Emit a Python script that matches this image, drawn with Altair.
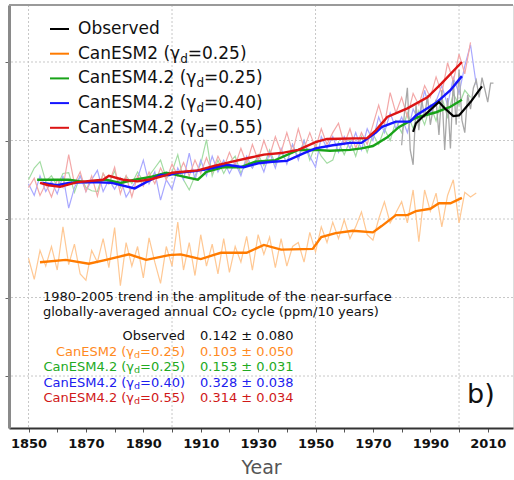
import altair as alt
import pandas as pd

# ---------------- data ----------------
obs_raw_vals = [39.4, 43.6, 46.7, 38.8, 36.9, 44.5, 41.3, 45.2, 42.9, 45.8,
                42.0, 44.1, 45.2, 40.7, 46.4, 38.8, 45.4, 39.0, 47.7, 42.0,
                49.0, 42.6, 41.0, 45.8, 44.0, 46.7, 47.7, 45.5, 48.0, 46.5,
                44.9, 47.3, 47.3]
obs_raw_start = 1980
obs_smooth_years = [1984, 1985, 1987, 1990, 1993, 1995, 1998, 2000, 2004, 2008]
obs_smooth_vals = [41.1, 42.2, 42.9, 43.9, 44.9, 44.1, 43.1, 43.2, 44.9, 46.9]

esm2_raw_vals = [25.0, 22.3, 26.0, 24.0, 26.5, 23.5, 29.0, 24.2, 26.8, 23.0,
                 22.2, 26.0, 24.5, 27.5, 23.8, 28.9, 21.5, 27.0, 24.0, 26.5,
                 22.5, 27.6, 24.5, 21.8, 26.5, 24.0, 29.6, 23.5, 27.0, 22.8,
                 28.0, 24.0, 26.8, 23.0, 27.5, 23.2, 26.5, 24.5, 27.8, 23.5,
                 28.0, 25.5, 27.7, 23.8, 27.5, 24.0, 26.5, 27.0, 24.5, 28.3,
                 25.8, 29.0, 27.0, 29.6, 27.5, 29.9, 27.5, 29.0, 30.9, 28.0,
                 27.3, 30.0, 32.2, 29.5, 30.8, 32.2, 29.5, 33.7, 27.1, 33.7,
                 31.0, 33.3, 29.0, 33.0, 35.0, 29.5, 33.4, 32.8, 33.3]
esm2_smooth_years = [1854, 1863, 1871, 1877, 1885, 1891, 1899, 1903, 1910, 1917,
                     1926, 1932, 1938, 1949, 1952, 1957, 1963, 1970, 1973, 1978,
                     1982, 1985, 1990, 1993, 1997, 2001]
esm2_smooth_vals = [24.5, 24.8, 24.3, 24.8, 25.5, 24.8, 25.4, 25.5, 24.9, 25.7,
                    25.7, 26.7, 26.1, 26.2, 27.7, 28.2, 28.5, 28.3, 29.1, 30.5,
                    30.5, 31.0, 31.3, 32.0, 32.0, 32.7]

g25_raw_vals = [35.0, 36.5, 37.3, 34.8, 35.5, 34.2, 35.8, 35.9, 33.4, 35.5,
                34.0, 33.6, 33.5, 35.8, 34.5, 36.1, 34.0, 35.5, 34.5, 36.0,
                34.8, 35.5, 36.5, 37.5, 35.2, 36.0, 38.2, 35.0, 33.7, 35.5,
                37.0, 40.1, 35.5, 37.5, 35.8, 37.2, 38.0, 35.8, 37.5, 36.5,
                38.2, 36.8, 38.8, 37.0, 38.5, 37.2, 39.5, 37.8, 40.0, 37.5,
                39.5, 38.0, 37.1, 37.5, 39.8, 38.2, 40.0, 38.0, 40.5, 38.5,
                40.8, 39.5, 41.5, 40.0, 42.5, 41.0, 43.5, 41.5, 43.8, 42.0,
                44.5, 42.5, 45.5, 43.0, 46.0, 44.5, 46.4, 45.5]
g25_smooth_years = [1853, 1864, 1870, 1877, 1882, 1887, 1893, 1898, 1904, 1909,
                    1912, 1918, 1924, 1929, 1936, 1944, 1950, 1955, 1962, 1966,
                    1970, 1975, 1979, 1985, 1992, 1997, 2001]
g25_smooth_vals = [35.0, 35.0, 34.7, 35.0, 34.6, 35.0, 35.4, 35.9, 35.4, 35.0,
                   36.0, 36.6, 36.6, 37.3, 37.5, 38.8, 38.8, 38.7, 38.8, 39.0,
                   39.3, 40.4, 41.7, 42.9, 43.6, 44.3, 45.2]

g40_raw_vals = [34.5, 33.0, 35.5, 33.5, 34.8, 33.2, 35.5, 31.4, 34.0, 35.5,
                33.5, 35.0, 36.2, 33.5, 35.0, 33.8, 35.2, 32.8, 34.0, 35.2,
                37.5, 34.5, 36.0, 32.4, 35.0, 33.8, 36.5, 35.0, 38.4, 35.0,
                37.5, 35.5, 38.0, 36.0, 37.5, 35.8, 37.2, 35.5, 38.0, 36.5,
                37.8, 36.0, 38.5, 36.5, 39.0, 37.0, 39.5, 37.5, 40.0, 38.0,
                36.6, 40.5, 39.0, 40.5, 38.5, 40.5, 39.0, 41.0, 38.8, 41.5,
                40.0, 43.0, 41.0, 43.5, 41.5, 43.0, 41.0, 44.0, 42.5, 46.4,
                43.5, 45.0, 47.0, 44.5, 48.0, 46.0, 49.5, 52.2, 47.1]
g40_smooth_years = [1855, 1860, 1864, 1872, 1879, 1887, 1891, 1896, 1899, 1902,
                    1908, 1913, 1919, 1925, 1930, 1935, 1940, 1946, 1950, 1956,
                    1962, 1966, 1971, 1973, 1978, 1983, 1985, 1992, 1997, 2001]
g40_smooth_vals = [34.6, 34.3, 34.6, 34.7, 34.6, 33.9, 34.7, 35.6, 35.6, 35.9,
                   36.1, 36.4, 36.9, 36.6, 37.1, 37.3, 37.4, 38.4, 39.0, 39.4,
                   39.7, 39.7, 41.0, 41.7, 42.4, 42.4, 43.2, 44.8, 46.4, 48.2]

g55_raw_vals = [34.0, 35.2, 33.0, 34.5, 32.8, 35.0, 34.0, 38.2, 34.5, 36.0,
                33.5, 35.5, 32.9, 35.8, 34.5, 36.6, 33.2, 35.5, 32.8, 35.5,
                34.2, 36.0, 34.5, 36.5, 35.0, 37.0, 35.5, 37.2, 35.5, 37.5,
                35.8, 37.8, 36.0, 38.0, 36.5, 38.5, 36.8, 39.0, 37.0, 39.5,
                37.5, 40.0, 38.0, 40.5, 38.5, 41.0, 38.5, 41.5, 39.0, 41.0,
                39.0, 41.5, 39.5, 41.0, 42.2, 39.5, 41.5, 39.0, 41.0, 39.5,
                42.0, 44.5, 42.0, 46.1, 43.5, 45.5, 43.0, 46.0, 44.5, 47.0,
                45.5, 48.1, 46.0, 49.9, 47.5, 51.0, 48.5, 52.5]
g55_smooth_years = [1854, 1857, 1861, 1867, 1876, 1878, 1883, 1888, 1893, 1898,
                    1900, 1909, 1915, 1921, 1927, 1932, 1938, 1944, 1950, 1954,
                    1968, 1971, 1975, 1982, 1989, 1994, 2001]
g55_smooth_vals = [34.6, 34.3, 34.1, 34.7, 35.0, 35.5, 35.0, 34.8, 35.1, 35.6,
                   35.9, 36.2, 36.8, 37.3, 37.8, 38.2, 38.4, 38.8, 39.8, 40.2,
                   40.3, 41.3, 43.0, 44.1, 45.5, 47.3, 50.0]

raw_start = 1850
raw_step = 2

grid_years = [1850, 1900, 1950, 2000]
grid_vals = [10, 20, 30, 40, 50]
x_ticks = list(range(1850, 2011, 10))

series_names = ["Observed", "CanESM2", "CanESM4.2", "CanESM4.2", "CanESM4.2"]
series_gamma = [None, "0.25", "0.25", "0.40", "0.55"]
trend_values = ["0.142 ± 0.080", "0.103 ± 0.050", "0.153 ± 0.031",
                "0.328 ± 0.038", "0.314 ± 0.034"]

# ---------------- styling ----------------
FONT = "DejaVu Sans"
C_OBS, C_OBS_RAW = "#000000", "#a8a8a8"
C_ORA, C_ORA_RAW = "#ff7b00", "#ffc894"
C_GRN, C_GRN_RAW = "#18a318", "#a3dca3"
C_BLU, C_BLU_RAW = "#1414ff", "#a8a8ff"
C_RED, C_RED_RAW = "#dc1414", "#f3a8a8"
smooth_colors = [C_OBS, C_ORA, C_GRN, C_BLU, C_RED]
table_colors = ["#111111", "#ff8a1e", "#22aa22", "#2020ee", "#d01818"]

W, H = 504, 423
XDOM = [1843.2, 2018.8]
YDOM = [3.38, 57.26]

xs = alt.Scale(domain=XDOM, nice=False, zero=False)
ys = alt.Scale(domain=YDOM, nice=False, zero=False)

X_AXIS = alt.Axis(values=x_ticks,
                  labelExpr="datum.value % 20 == 10 ? format(datum.value, 'd') : ''",
                  tickSize=4, tickColor="#555", tickWidth=1,
                  domainColor="#333", domainWidth=2,
                  labelFont=FONT, labelFontSize=13, labelFontWeight="bold",
                  labelColor="#111", labelPadding=5,
                  titleFont=FONT, titleFontSize=19, titleFontWeight="normal",
                  titleColor="#555", titlePadding=8, grid=False)
Y_AXIS = alt.Axis(values=grid_vals, labels=False, tickSize=4,
                  tickColor="#666", domainColor="#8a8a8a", domainWidth=3,
                  grid=False)


def XE():
    return alt.X("year:Q", scale=xs, title="Year", axis=X_AXIS)


def YE():
    return alt.Y("v:Q", scale=ys, title=None, axis=Y_AXIS)


def df_raw(vals, start, step):
    return pd.DataFrame({"year": [start + step * i for i in range(len(vals))],
                         "v": vals})


def df_xy(years, vals):
    return pd.DataFrame({"year": years, "v": vals})


def line(df, color, width, opacity=1.0):
    return alt.Chart(df).mark_line(color=color, strokeWidth=width,
                                   opacity=opacity, clip=True).encode(
        x=XE(), y=YE())


# text width helper (DejaVu Sans advance widths, units per em = 2048)
ADV = {' ': 651, '(': 799, ')': 799, '.': 651, '=': 1716, 'C': 1430, 'a': 1255,
       'n': 1298, 'E': 1294, 'S': 1300, 'M': 1767, 'd': 1300, 'γ': 1212}


def tw(s, size):
    return sum(ADV.get(c, 1303) for c in s) / 2048.0 * size


_dummy = pd.DataFrame({"k": [0]})


def txt(s, x, y, size, color, align="left", weight="normal", baseline="middle"):
    return alt.Chart(_dummy).mark_text(
        x=x, y=y, fontSize=size, font=FONT, color=color, align=align,
        baseline=baseline, fontWeight=weight
    ).encode(text=alt.value(s))


# ---------------- gridlines & frame ----------------
vgrid = alt.Chart(pd.DataFrame({"year": grid_years})).mark_rule(
    color="#c8c8c8", strokeDash=[2, 2], strokeWidth=1).encode(x=XE())
hgrid = alt.Chart(pd.DataFrame({"v": grid_vals})).mark_rule(
    color="#c8c8c8", strokeDash=[2, 2], strokeWidth=1).encode(y=YE())

top_border = alt.Chart(_dummy).mark_rule(color="#9a9a9a", strokeWidth=2).encode(
    x=alt.value(0), x2=alt.value(W), y=alt.value(0))

# ---------------- data lines ----------------
raw_layers = [
    line(df_raw(esm2_raw_vals, raw_start, raw_step), C_ORA_RAW, 1.2),
    line(df_raw(g25_raw_vals, raw_start, raw_step), C_GRN_RAW, 1.2),
    line(df_raw(g40_raw_vals, raw_start, raw_step), C_BLU_RAW, 1.2),
    line(df_raw(g55_raw_vals, raw_start, raw_step), C_RED_RAW, 1.2),
    line(df_raw(obs_raw_vals, obs_raw_start, 1), C_OBS_RAW, 1.3),
]
smooth_layers = [
    line(df_xy(esm2_smooth_years, esm2_smooth_vals), C_ORA, 2.4),
    line(df_xy(g25_smooth_years, g25_smooth_vals), C_GRN, 2.4),
    line(df_xy(g40_smooth_years, g40_smooth_vals), C_BLU, 2.4),
    line(df_xy(g55_smooth_years, g55_smooth_vals), C_RED, 2.4),
    line(df_xy(obs_smooth_years, obs_smooth_vals), C_OBS, 2.2),
]

# ---------------- legend (top left) ----------------
legend_layers = []
LX0, LX1, LTX = 41, 60, 69
LY0, LDY = 24, 24.7
LFS, LSUB = 17, 12
for i, (name, gam) in enumerate(zip(series_names, series_gamma)):
    yy = LY0 + i * LDY
    legend_layers.append(
        alt.Chart(_dummy).mark_rule(color=smooth_colors[i], strokeWidth=2).encode(
            x=alt.value(LX0), x2=alt.value(LX1), y=alt.value(yy)))
    if gam is None:
        legend_layers.append(txt(name, LTX, yy, LFS, "#111"))
    else:
        pre = name + " (γ"
        legend_layers.append(txt(pre, LTX, yy, LFS, "#111"))
        xd = LTX + tw(pre, LFS)
        legend_layers.append(txt("d", xd, yy + 5, LSUB, "#111"))
        legend_layers.append(txt("=" + gam + ")", xd + tw("d", LSUB), yy, LFS, "#111"))

# ---------------- inset trend table ----------------
table_layers = [
    txt("1980-2005 trend in the amplitude of the near-surface", 34, 292, 13, "#111"),
    txt("globally-averaged annual CO₂ cycle (ppm/10 years)", 34, 307, 13, "#111"),
]
TXR, TXV = 176, 191
TY0, TDY = 331, 15.5
TFS, TSUB = 13, 9.5
for i, (name, gam) in enumerate(zip(series_names, series_gamma)):
    yy = TY0 + i * TDY
    col = table_colors[i]
    if gam is None:
        table_layers.append(txt(name, TXR, yy, TFS, col, align="right"))
    else:
        tail = "=" + gam + ")"
        x_tail = TXR - tw(tail, TFS)
        x_d = x_tail - tw("d", TSUB)
        table_layers.append(txt(name + " (γ", x_d, yy, TFS, col, align="right"))
        table_layers.append(txt("d", x_d, yy + 3, TSUB, col))
        table_layers.append(txt(tail, x_tail, yy, TFS, col))
    table_layers.append(txt(trend_values[i], TXV, yy, TFS, col))

panel_label = txt("b)", 458, 390, 27, "#111")

chart = alt.layer(
    vgrid, hgrid, *raw_layers, *smooth_layers, top_border,
    *legend_layers, *table_layers, panel_label
).properties(
    width=W, height=H,
    padding={"left": 9, "top": 5, "right": 1, "bottom": 52},
    autosize=alt.AutoSizeParams(type="none"),
).configure_view(strokeWidth=0).configure(background="white")

chart.save("out.html", embed_options={"renderer": "svg", "actions": False})
